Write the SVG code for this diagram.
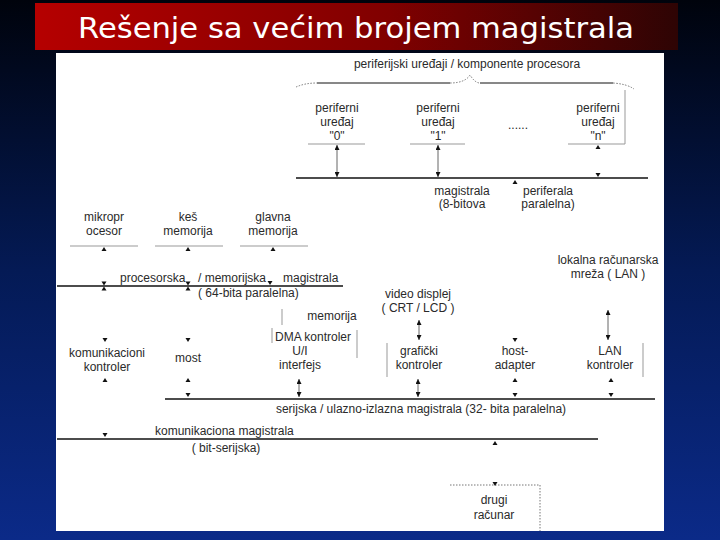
<svg xmlns="http://www.w3.org/2000/svg" width="720" height="540" viewBox="0 0 720 540">
<defs>
<linearGradient id="bg" x1="0" y1="0" x2="0" y2="1">
<stop offset="0" stop-color="#00030c"/>
<stop offset="0.5" stop-color="#041a55"/>
<stop offset="1" stop-color="#0b2a88"/>
</linearGradient>
<linearGradient id="tb" x1="0" y1="0" x2="1" y2="0">
<stop offset="0" stop-color="#b50000"/>
<stop offset="0.55" stop-color="#800000"/>
<stop offset="1" stop-color="#2e0404"/>
</linearGradient>
<path id="dn" d="M-2.5,-4 L2.5,-4 L0,0 Z"/>
<path id="up" d="M-2.5,4 L2.5,4 L0,0 Z"/>
<marker id="ah" viewBox="0 0 6 6" refX="6" refY="3" markerWidth="5" markerHeight="5" orient="auto-start-reverse" markerUnits="userSpaceOnUse">
<path d="M0,0 L6,3 L0,6 Z" fill="#111"/>
</marker>
<style>
text{font-family:"Liberation Sans",Arial,sans-serif;font-size:12px;fill:#2a2a2a}
.c{text-anchor:middle}
.title{font-family:"DejaVu Sans",sans-serif;font-size:28px;fill:#ffffff;text-anchor:middle}
.bus{stroke:#111;stroke-width:1.3;fill:none}
.thin{stroke:#999;stroke-width:1;fill:none}
.dot{stroke:#777;stroke-width:1;stroke-dasharray:1.5 1.5;fill:none}
.dbl{stroke:#666;stroke-width:1;marker-start:url(#ah);marker-end:url(#ah)}
use{fill:#111}
</style>
</defs>
<rect width="720" height="540" fill="url(#bg)"/>
<rect x="35" y="3" width="643" height="47" fill="url(#tb)"/>
<text class="title" x="356" y="38" textLength="556" lengthAdjust="spacingAndGlyphs">Rešenje sa većim brojem magistrala</text>
<rect x="56" y="53" width="608" height="478" fill="#ffffff"/>

<g id="connectors">
<!-- brace -->
<path class="dot" d="M296,87 Q305,83 317,83"/>
<path class="bus" style="stroke-width:1" d="M317,83 L450,83"/>
<path class="dot" d="M450,83 Q465,83 470,75 Q475,83 480,83"/>
<path class="bus" style="stroke-width:1" d="M480,83 L613,83"/>
<path class="dot" d="M613,83 Q627,84 634,89"/>
<path class="thin" d="M625,90 V144 H568"/>
<!-- peripheral device lines -->
<line class="thin" x1="308" y1="144" x2="365" y2="144"/>
<line class="thin" x1="410" y1="144" x2="465" y2="144"/>
<line class="dbl" x1="337" y1="145" x2="337" y2="177"/>
<line class="dbl" x1="438" y1="145" x2="438" y2="177"/>
<use href="#up" x="598" y="145"/>
<use href="#dn" x="598" y="177"/>
<!-- peripheral bus -->
<line class="bus" x1="296" y1="178" x2="648" y2="178"/>
<use href="#up" x="515" y="180"/>

<!-- processor/memory -->
<line class="thin" x1="70" y1="246" x2="138" y2="246"/>
<line class="thin" x1="155" y1="246" x2="223" y2="246"/>
<line class="thin" x1="240" y1="246" x2="308" y2="246"/>
<use href="#up" x="104" y="247"/>
<use href="#up" x="188" y="247"/>
<use href="#up" x="273" y="247"/>
<line class="bus" x1="57" y1="286" x2="343" y2="286"/>
<use href="#dn" x="104" y="285.5"/>
<use href="#up" x="104" y="286.5"/>
<use href="#dn" x="188" y="285.5"/>
<use href="#up" x="188" y="286.5"/>
<use href="#dn" x="270" y="285"/>

<!-- memorija / DMA -->
<line class="thin" x1="282" y1="309" x2="282" y2="325"/>
<line class="thin" x1="272" y1="328" x2="272" y2="343"/>
<line class="thin" x1="357" y1="330" x2="357" y2="358"/>

<!-- mid row arrows -->
<use href="#dn" x="105" y="342"/>
<use href="#up" x="105" y="378"/>
<use href="#dn" x="188" y="342"/>
<use href="#up" x="188" y="378"/>
<line class="dbl" x1="419" y1="320" x2="419" y2="340"/>
<line class="thin" x1="387" y1="343" x2="387" y2="377"/>
<use href="#dn" x="515" y="342"/>
<use href="#up" x="515" y="378"/>
<line class="dbl" x1="608" y1="310" x2="608" y2="340"/>
<line class="thin" x1="643" y1="343" x2="643" y2="377"/>
<use href="#up" x="611" y="378"/>

<!-- serial bus -->
<line class="bus" x1="165" y1="399" x2="655" y2="399"/>
<use href="#dn" x="188" y="397"/>
<line class="dbl" x1="299" y1="379" x2="299" y2="397"/>
<line class="dbl" x1="418" y1="379" x2="418" y2="397"/>
<use href="#dn" x="515" y="397"/>
<use href="#dn" x="611" y="397"/>

<!-- communication bus -->
<line class="bus" x1="57" y1="439" x2="598" y2="439"/>
<use href="#dn" x="105" y="437"/>
<use href="#up" x="495" y="441"/>
<path class="dot" d="M450,485 H540 V531"/>
<use href="#dn" x="495" y="486"/>
</g>

<g id="periph-header"><text class="c" x="467" y="68">periferijski uređaji / komponente procesora</text></g>
<g id="dev0"><text class="c" x="337" y="112">periferni</text><text class="c" x="337" y="126">uređaj</text><text class="c" x="337" y="140">"0"</text></g>
<g id="dev1"><text class="c" x="438" y="112">periferni</text><text class="c" x="438" y="126">uređaj</text><text class="c" x="438" y="140">"1"</text></g>
<g id="devdots"><text class="c" x="518" y="129">......</text></g>
<g id="devn"><text class="c" x="598" y="112">periferni</text><text class="c" x="598" y="126">uređaj</text><text class="c" x="598" y="140">"n"</text></g>
<g id="periph-bus-label"><text class="c" x="462" y="195">magistrala</text><text class="c" x="462" y="208">(8-bitova</text><text class="c" x="548" y="195">periferala</text><text class="c" x="548" y="208">paralelna)</text></g>

<g id="cpu"><text class="c" x="104" y="221">mikropr</text><text class="c" x="104" y="235">ocesor</text></g>
<g id="cache"><text class="c" x="188" y="221">keš</text><text class="c" x="188" y="235">memorija</text></g>
<g id="mainmem"><text class="c" x="273" y="221">glavna</text><text class="c" x="273" y="235">memorija</text></g>
<g id="proc-bus-label"><text x="120" y="282">procesorska</text><text x="198" y="282">/ memorijska</text><text x="283" y="282">magistrala</text><text x="198" y="297">( 64-bita paralelna)</text></g>

<g id="dma"><text class="c" x="332" y="320">memorija</text><text class="c" x="313" y="341">DMA kontroler</text><text class="c" x="300" y="355">U/I</text><text class="c" x="300" y="369">interfejs</text></g>
<g id="commctl"><text class="c" x="107" y="357">komunikacioni</text><text class="c" x="107" y="371">kontroler</text></g>
<g id="bridge"><text class="c" x="188" y="362">most</text></g>
<g id="video"><text class="c" x="418" y="298">video displej</text><text class="c" x="418" y="312">( CRT / LCD )</text></g>
<g id="gfx"><text class="c" x="419" y="355">grafički</text><text class="c" x="419" y="369">kontroler</text></g>
<g id="host"><text class="c" x="515" y="355">host-</text><text class="c" x="515" y="369">adapter</text></g>
<g id="lan"><text class="c" x="608" y="264">lokalna računarska</text><text class="c" x="608" y="278">mreža ( LAN )</text></g>
<g id="lanctl"><text class="c" x="610" y="355">LAN</text><text class="c" x="610" y="369">kontroler</text></g>
<g id="serial-label"><text class="c" x="421" y="413">serijska / ulazno-izlazna magistrala (32- bita paralelna)</text></g>
<g id="comm-label"><text x="155" y="435">komunikaciona magistrala</text><text class="c" x="226" y="452">( bit-serijska)</text></g>
<g id="other"><text class="c" x="494" y="504">drugi</text><text class="c" x="494" y="519">računar</text></g>
</svg>
